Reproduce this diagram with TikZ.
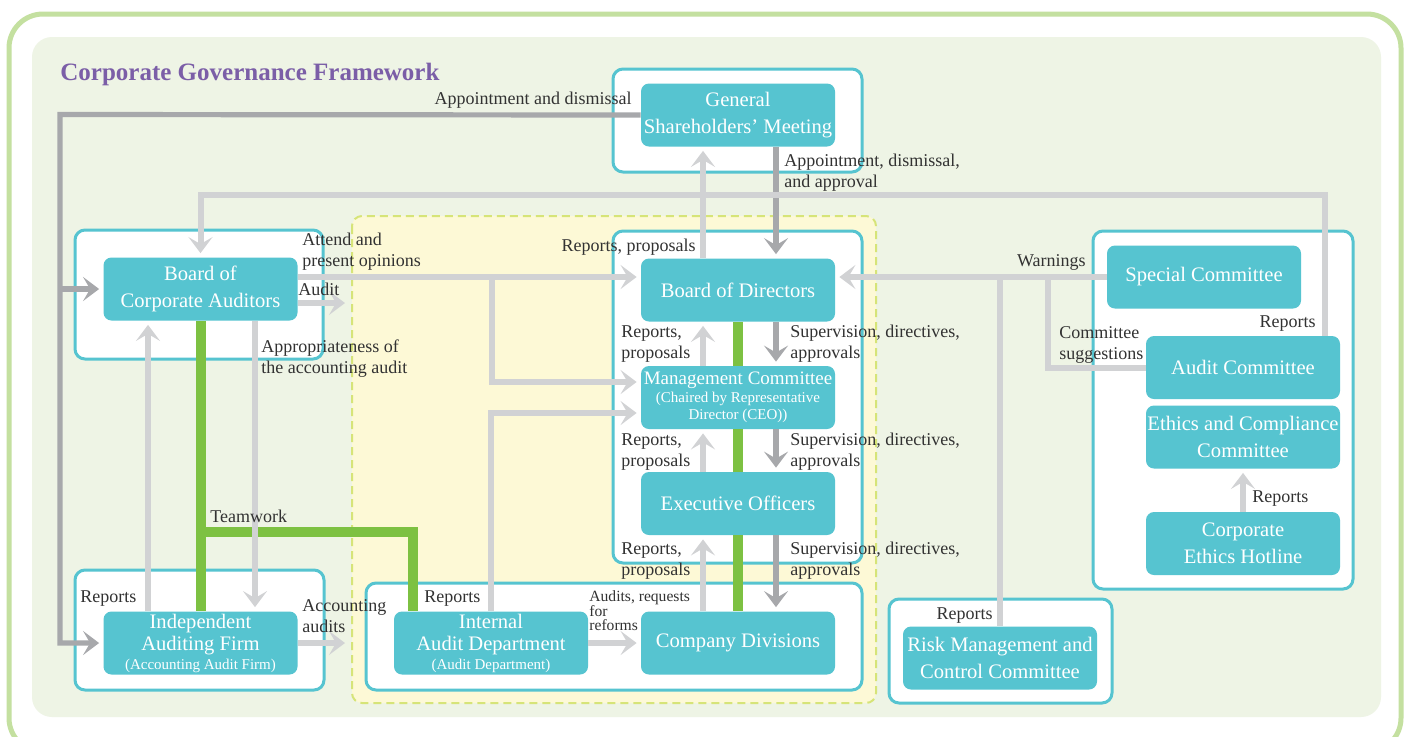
\documentclass[tikz,border=0pt]{standalone}
\usepackage{fontspec}
\setmainfont{Liberation Serif}
\usepackage{xcolor}
\usetikzlibrary{arrows.meta,positioning,calc}
\definecolor{govcyan}{RGB}{86,196,208}
\definecolor{govlite}{RGB}{209,210,212}
\definecolor{govdark}{RGB}{167,168,171}
\definecolor{govgreen}{RGB}{125,193,66}
\definecolor{govyellow}{RGB}{253,249,214}
\definecolor{govdash}{RGB}{214,228,120}
\definecolor{govbg}{RGB}{238,244,229}
\definecolor{govrim}{RGB}{196,224,160}
\definecolor{govpurple}{RGB}{123,94,167}
\definecolor{govtext}{RGB}{50,50,50}
\newcommand{\govsmall}{\fontsize{7.5}{8.5}\selectfont}

\begin{document}
\begin{tikzpicture}[x=0.5pt, y=-0.5pt,
    govbox/.style={fill=govcyan, text=white, rounded corners=4pt, minimum width=97pt, minimum height=31.5pt, inner sep=0pt, align=center, font=\fontsize{10.3}{13.5}\selectfont},
    grp/.style={draw=govcyan, line width=1.5pt, fill=white, rounded corners=5pt},
    lbl/.style={text=govtext, inner sep=0pt, align=left, font=\fontsize{9}{10.5}\selectfont},
    lite/.style={draw=govlite, line width=3pt},
    dark/.style={draw=govdark, line width=2.6pt},
    arr/.style={-{Stealth[length=8pt, width=12pt, inset=3.5pt]}, shorten >=2pt},
    team/.style={draw=govgreen, line width=5pt}]
    \useasboundingbox (0,0) rectangle (1408,736);
    \clip (0,0) rectangle (1408,736);
    \fill[white] (0,0) rectangle (1408,736);
    \draw[govrim, line width=2.5pt, rounded corners=17pt] (9,14) rectangle (1401,752);
    \fill[govbg, rounded corners=10pt] (32,37) rectangle (1381,717);
    \draw[govdash, fill=govyellow, line width=1pt, dash pattern=on 4pt off 2.5pt, rounded corners=5pt] (352,216) rectangle (876,703);

    \draw[grp] (613,69) rectangle (862,172);
    \draw[grp] (75,230) rectangle (323,359);
    \draw[grp] (613,231) rectangle (862,563);
    \draw[grp] (75,570) rectangle (324,690);
    \draw[grp] (366,583) rectangle (862,690);
    \draw[grp] (1093,231) rectangle (1353,589);
    \draw[grp] (889,599) rectangle (1112,703);

    \node[anchor=west, inner sep=0pt, text=govpurple, font=\fontsize{12.5}{15}\selectfont\bfseries] (title) at (60,74) {Corporate Governance Framework};

    \node[govbox] (gsm) at (738,115) {General\\Shareholders’ Meeting};
    \node[govbox] (bod) at (738,290) {Board of Directors};
    \node[govbox] (mc) at (738,397.5) {{\fontsize{9.5}{13.5}\selectfont Management Committee}\\[-4.5pt]{\govsmall(Chaired by Representative}\\[-5pt]{\govsmall Director (CEO))}};
    \node[govbox] (eo) at (738,503.5) {Executive Officers};
    \node[govbox] (cd) at (738,643) {Company Divisions};
    \node[govbox] (bca) at (200.5,289) {Board of\\Corporate Auditors};
    \node[govbox] (iaf) at (200.5,643) {Independent\\[-2.5pt]Auditing Firm\\[-4pt]{\govsmall(Accounting Audit Firm)}};
    \node[govbox] (iad) at (491,643) {Internal\\[-2.5pt]Audit Department\\[-4pt]{\govsmall(Audit Department)}};
    \node[govbox] (spc) at (1204,277) {Special Committee};
    \node[govbox] (auc) at (1243,367.5) {Audit Committee};
    \node[govbox] (ecc) at (1243,437) {Ethics and Compliance\\Committee};
    \node[govbox] (hot) at (1243,543.5) {Corporate\\Ethics Hotline};
    \node[govbox] (rmc) at (1000,658) {Risk Management and\\Control Committee};

    \draw[team] (bod) -- (mc);
    \draw[team] (mc) -- (eo);
    \draw[team] (eo) -- (cd);
    \draw[team] (bca) -- (iaf);
    \coordinate (tw) at (200.5,532);
    \draw[team] (tw) -| ($(iad.north)+(-78,0)$);

    \coordinate (dk) at (60,114.5);
    \draw[dark, arr] (gsm.west) -- (dk) |- (iaf.west);
    \draw[dark, arr] (dk |- bca.west) -- (bca.west);
    \draw[dark, arr] ($(gsm.south)+(38,0)$) -- ($(bod.north)+(38,0)$);
    \draw[dark, arr] ($(bod.south)+(38,0)$) -- ($(mc.north)+(38,0)$);
    \draw[dark, arr] ($(mc.south)+(38,0)$) -- ($(eo.north)+(38,0)$);
    \draw[dark, arr] ($(eo.south)+(38,0)$) -- ($(cd.north)+(38,0)$);

    \draw[lite, arr] ($(bod.north)+(-35,0)$) -- ($(gsm.south)+(-35,0)$);
    \draw[lite, arr] ($(mc.north)+(-35,0)$) -- ($(bod.south)+(-35,0)$);
    \draw[lite, arr] ($(eo.north)+(-35,0)$) -- ($(mc.south)+(-35,0)$);
    \draw[lite, arr] ($(cd.north)+(-35,0)$) -- ($(eo.south)+(-35,0)$);

    \coordinate (split) at (492,277);
    \draw[lite, arr] ($(bca.east)+(0,-12)$) -- ($(bod.west)+(0,-13)$);
    \draw[lite, arr] (split) |- ($(mc.west)+(0,-15.5)$);
    \draw[lite, arr] (iad.north) |- ($(mc.west)+(0,15.5)$);
    \coordinate (audend) at (349,303);
    \draw[lite, arr] (bca.east |- audend) -- (audend);
    \draw[lite, arr] ($(bca.south)+(54.5,0)$) -- ($(iaf.north)+(54.5,0)$);
    \draw[lite, arr] ($(iaf.north)+(-52.5,0)$) -- ($(bca.south)+(-52.5,0)$);
    \coordinate (accend) at (349,643);
    \draw[lite, arr] (iaf.east) -- (accend);
    \draw[lite, arr] (iad) -- (cd);

    \draw[lite, arr] (spc.west) -- ($(bod.east)+(0,-13)$);
    \coordinate (warnA) at (1000,277);
    \coordinate (warnB) at (1048,277);
    \draw[lite] (warnA) -- (rmc.north);
    \draw[lite] (warnB) |- (auc.west);
    \coordinate (topline) at (200.5,195);
    \draw[lite, arr] ($(auc.north)+(82,0)$) |- (topline) -- (bca.north);
    \draw[lite, arr] (hot) -- (ecc);

    \node[lbl, anchor=east] (lappd) at (632,100) {Appointment and dismissal};
    \node[lbl, anchor=west] (lappr) at (784,173) {Appointment, dismissal,\\and approval};
    \node[lbl, anchor=east] (lrp0) at (696,247) {Reports, proposals};
    \node[lbl, anchor=west] (latt) at (302,252) {Attend and\\present opinions};
    \node[lbl, anchor=west] (laud) at (298,289) {Audit};
    \node[lbl, anchor=west] (lapa) at (261,359) {Appropriateness of\\the accounting audit};
    \node[lbl, anchor=west] (lrp1) at (621,344) {Reports,\\proposals};
    \node[lbl, anchor=west] (lsv1) at (790,344) {Supervision, directives,\\approvals};
    \node[lbl, anchor=west] (lrp2) at (621,452) {Reports,\\proposals};
    \node[lbl, anchor=west] (lsv2) at (790,452) {Supervision, directives,\\approvals};
    \node[lbl, anchor=west] (lrp3) at (621,561) {Reports,\\proposals};
    \node[lbl, anchor=west] (lsv3) at (790,561) {Supervision, directives,\\approvals};
    \node[lbl, anchor=east] (lwarn) at (1086,262) {Warnings};
    \node[lbl, anchor=west] (lcs) at (1059,345) {Committee\\suggestions};
    \node[lbl, anchor=east] (lrpa) at (1316,324) {Reports};
    \node[lbl, anchor=west] (lrph) at (1252,499) {Reports};
    \node[lbl, anchor=west] (lteam) at (210,516) {Teamwork};
    \node[lbl, anchor=west] (lrpf) at (80,599) {Reports};
    \node[lbl, anchor=west] (lacc) at (302,616) {Accounting\\audits};
    \node[lbl, anchor=west] (lrpi) at (424,599) {Reports};
    \node[lbl, anchor=west, font=\fontsize{7.8}{7.3}\selectfont] (larf) at (589,611) {Audits, requests\\for\\reforms};
    \node[lbl, anchor=east] (lrpr) at (993,616) {Reports};
\end{tikzpicture}
\end{document}
